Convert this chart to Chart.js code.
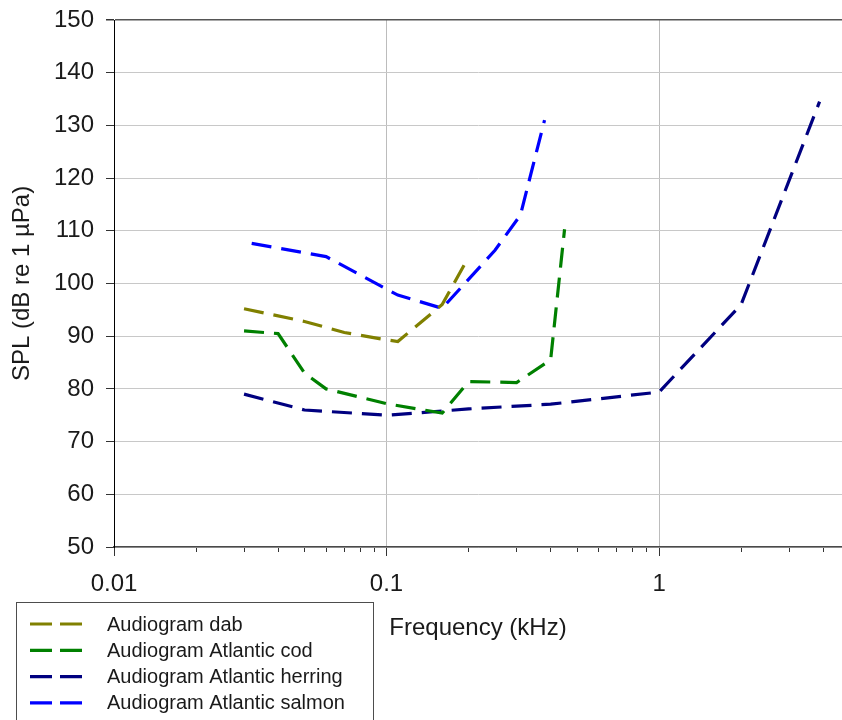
<!DOCTYPE html>
<html>
<head>
<meta charset="utf-8">
<script src="https://cdn.jsdelivr.net/npm/chart.js@4.4.1/dist/chart.umd.min.js"></script>
<style>
  html, body { margin: 0; padding: 0; background: #ffffff; }
  canvas { display: block; }
</style>
</head>
<body>
<canvas id="chart" width="842" height="720"></canvas>
<script>
// Hearing thresholds (SPL, dB re 1 µPa) against frequency (kHz)
const dabFreq      = [0.03, 0.05, 0.07, 0.1, 0.11, 0.16, 0.2];
const dabSpl       = [95.2, 92.8, 90.7, 89.3, 89.0, 96.0, 105.0];

const codFreq      = [0.03, 0.04, 0.05, 0.06, 0.1, 0.16, 0.2, 0.3, 0.4, 0.45];
const codSpl       = [91.0, 90.5, 83.0, 80.0, 77.2, 75.4, 81.4, 81.2, 85.5, 110.3];

const herringFreq  = [0.03, 0.05, 0.1, 0.2, 0.4, 1, 2, 3.88];
const herringSpl   = [79.0, 76.0, 75.0, 76.2, 77.1, 79.4, 96.0, 134.5];

const salmonFreq   = [0.032, 0.06, 0.11, 0.16, 0.25, 0.31, 0.38];
const salmonSpl    = [107.6, 105.1, 97.8, 95.3, 106.3, 113.0, 131.0];

const seriesLabels = [
  'Audiogram dab',
  'Audiogram Atlantic cod',
  'Audiogram Atlantic herring',
  'Audiogram Atlantic salmon'
];

// Axis ticks
const xMajorTicks  = [0.01, 0.1, 1];
const xMajorLabels = ['0.01', '0.1', '1'];
const xMinorTicks  = [0.02, 0.03, 0.04, 0.05, 0.06, 0.07, 0.08, 0.09,
                      0.2, 0.3, 0.4, 0.5, 0.6, 0.7, 0.8, 0.9,
                      2, 3, 4];
const xMin = 0.01;
const xMax = 4.69;
const yMin = 50;
const yMax = 150;
const yStep = 10;

const FONT = '"Liberation Sans", Arial, Helvetica, sans-serif';
const colors = ['#808000', '#008000', '#000080', '#0000ff'];

function toPoints(xs, ys) {
  return xs.map((x, i) => ({ x: x, y: ys[i] }));
}

const seriesData = [
  toPoints(dabFreq, dabSpl),
  toPoints(codFreq, codSpl),
  toPoints(herringFreq, herringSpl),
  toPoints(salmonFreq, salmonSpl)
];

// Boxed legend in the lower-left corner, built from the datasets
const boxedLegend = {
  id: 'boxedLegend',
  afterDraw(chart) {
    const ctx = chart.ctx;
    ctx.save();
    ctx.strokeStyle = '#4d4d4d';
    ctx.lineWidth = 1;
    ctx.strokeRect(16.5, 602.5, 357, 130);
    ctx.font = '20px ' + FONT;
    ctx.textBaseline = 'middle';
    ctx.textAlign = 'left';
    chart.data.datasets.forEach((ds, i) => {
      const y = 624 + i * 26.3;
      ctx.strokeStyle = ds.borderColor;
      ctx.lineWidth = 3.2;
      ctx.setLineDash([22, 8]);
      ctx.beginPath();
      ctx.moveTo(30, y);
      ctx.lineTo(82, y);
      ctx.stroke();
      ctx.setLineDash([]);
      ctx.fillStyle = '#1a1a1a';
      ctx.fillText(ds.label, 107, y + 1);
    });
    ctx.restore();
  }
};

new Chart(document.getElementById('chart'), {
  type: 'line',
  data: {
    datasets: seriesData.map((pts, i) => ({
      label: seriesLabels[i],
      data: pts,
      borderColor: colors[i],
      backgroundColor: colors[i],
      borderWidth: 3.2,
      borderDash: [20, 10],
      pointRadius: 0,
      fill: false,
      tension: 0,
      xAxisID: 'x',
      yAxisID: 'y'
    }))
  },
  options: {
    responsive: false,
    animation: false,
    devicePixelRatio: 1,
    layout: { padding: { top: 20, right: 0, bottom: 0, left: 0 } },
    plugins: {
      legend: { display: false },
      tooltip: { enabled: false }
    },
    scales: {
      x: {
        type: 'logarithmic',
        position: 'bottom',
        weight: 1,
        min: xMin,
        max: xMax,
        afterBuildTicks: (scale) => {
          scale.ticks = xMajorTicks.map(v => ({ value: v, major: true }));
        },
        afterFit: (scale) => { scale.height = 173; },
        grid: {
          color: (ctx) => (ctx.tick && ctx.tick.value === xMin) ? 'rgba(0,0,0,0)' : '#bcbcbc',
          lineWidth: 1,
          tickLength: 9,
          tickColor: '#333333',
          drawTicks: true
        },
        border: { display: true, color: '#4a4a4a', width: 1.5 },
        ticks: {
          autoSkip: false,
          maxRotation: 0,
          padding: 14,
          color: '#1a1a1a',
          font: { family: FONT, size: 24 },
          callback: (value, index) => xMajorLabels[index]
        },
        title: {
          display: true,
          text: 'Frequency (kHz)',
          color: '#1a1a1a',
          font: { family: FONT, size: 24 },
          padding: { top: 0, bottom: 77 }
        }
      },
      xMinor: {
        type: 'logarithmic',
        position: 'bottom',
        weight: 0,
        min: xMin,
        max: xMax,
        afterBuildTicks: (scale) => {
          scale.ticks = xMinorTicks.map(v => ({ value: v }));
        },
        afterFit: (scale) => { scale.height = 0; },
        grid: {
          drawOnChartArea: false,
          drawTicks: true,
          tickLength: 5,
          tickColor: '#333333'
        },
        border: { display: false },
        ticks: { display: false, autoSkip: false }
      },
      y: {
        type: 'linear',
        position: 'left',
        min: yMin,
        max: yMax,
        afterFit: (scale) => {
          scale.width = 114;
          scale.paddingTop = 0;
          scale.paddingBottom = 0;
        },
        grid: {
          color: (ctx) => (ctx.tick && ctx.tick.value === yMax) ? '#555555' : '#c8c8c8',
          lineWidth: (ctx) => (ctx.tick && ctx.tick.value === yMax) ? 1.5 : 1,
          tickLength: 8,
          tickColor: '#333333'
        },
        border: { display: true, color: '#000000', width: 1 },
        ticks: {
          stepSize: yStep,
          padding: 12,
          color: '#1a1a1a',
          font: { family: FONT, size: 24 }
        },
        title: {
          display: true,
          text: 'SPL (dB re 1 µPa)',
          color: '#1a1a1a',
          font: { family: FONT, size: 24 },
          padding: { top: 8, bottom: 0 }
        }
      }
    }
  },
  plugins: [boxedLegend]
});
</script>
</body>
</html>
